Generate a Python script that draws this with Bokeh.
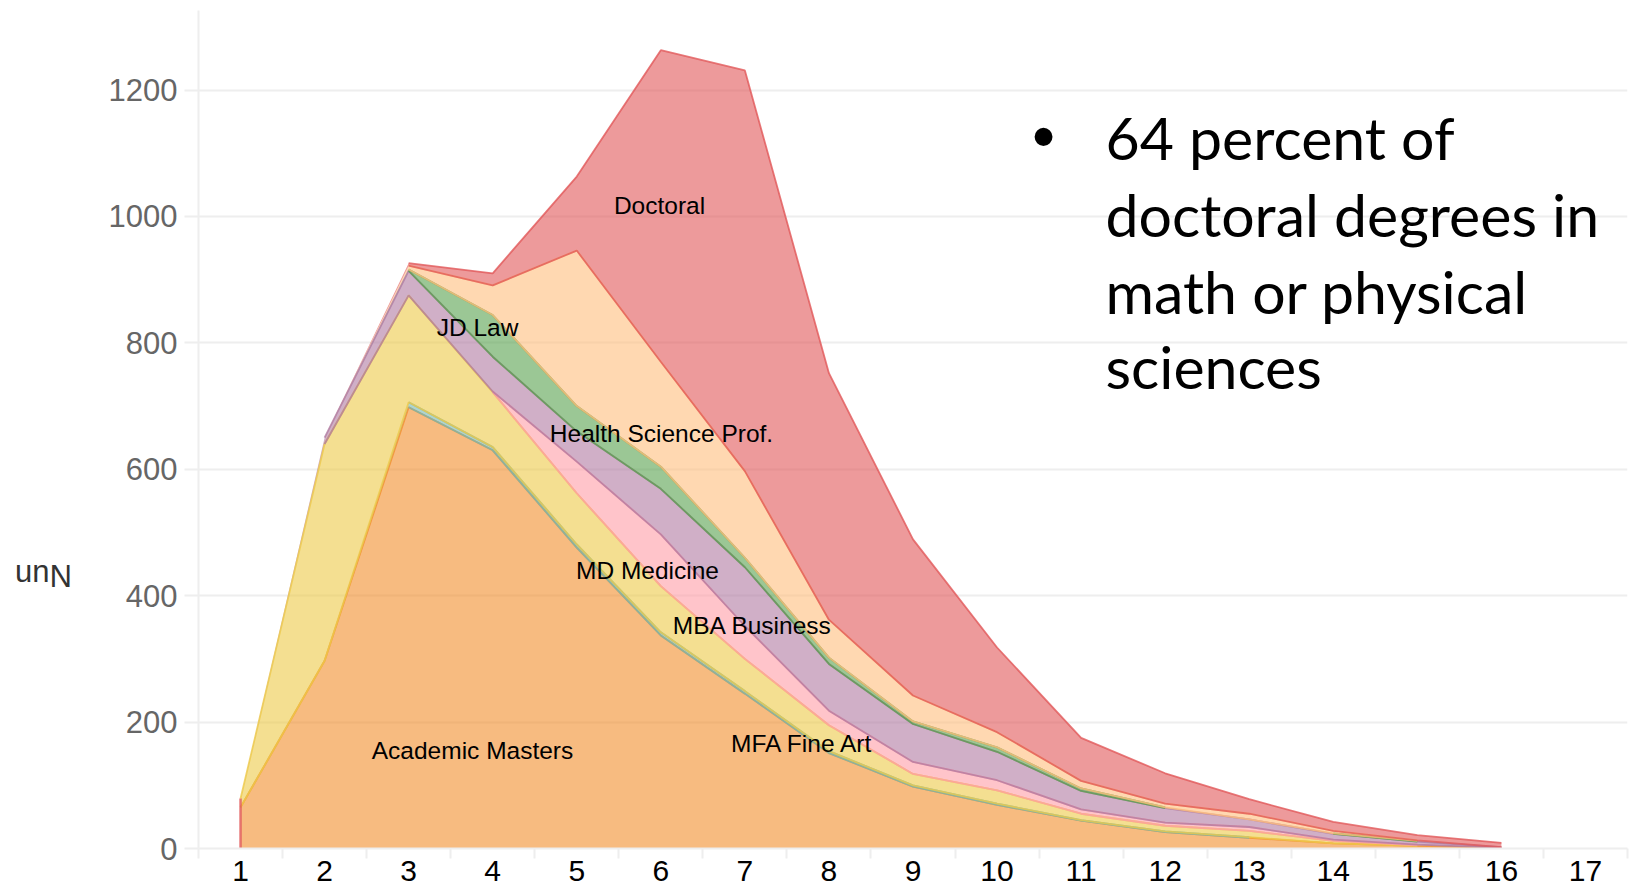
import math
import numpy as np
from bokeh.plotting import figure
from bokeh.models import Range1d, FixedTicker, Label, ColumnDataSource
from bokeh.embed import file_html
from bokeh.resources import INLINE

# ---------------- data ----------------
X = [1, 2, 3, 4, 5, 6, 7, 8, 9, 10, 11, 12, 13, 14, 15, 16]
X_TICKS = list(range(1, 18))
Y_TICKS = [0, 200, 400, 600, 800, 1000, 1200]

academic_masters = [65, 297, 698, 630, 476, 337, 245, 151, 98, 69, 44, 26, 17, 8, 4, 1]
mfa_fine_art     = [0, 0, 8, 5, 5, 5, 4, 3, 2, 2, 1, 1, 1, 0, 0, 0]
other_masters    = [14, 343, 169, 87, 81, 73, 51, 41, 18, 21, 10, 9, 10, 4, 1, 0]
md_medicine      = [0, 0, 0, 1, 50, 82, 52, 23, 19, 16, 7, 5, 6, 2, 1, 0]
mba_business     = [0, 10, 39, 55, 48, 72, 93, 74, 60, 45, 29, 23, 12, 9, 5, 1]
jd_law           = [0, 0, 2, 66, 40, 35, 15, 10, 4, 7, 4, 1, 0, 1, 1, 0]
health_science   = [0, 0, 6, 47, 246, 166, 137, 60, 41, 24, 12, 6, 9, 4, 1, 0]
doctoral         = [0, 0, 4, 19, 117, 493, 634, 390, 247, 134, 68, 48, 23, 14, 8, 7]

SERIES = ["Academic Masters", "MFA Fine Art", "Other Masters", "MD Medicine",
          "MBA Business", "JD Law", "Health Science Prof.", "Doctoral"]
VALUES = [academic_masters, mfa_fine_art, other_masters, md_medicine,
          mba_business, jd_law, health_science, doctoral]
COLORS = ["#f28e2b", "#76b7b2", "#edc948", "#ff9da7",
          "#b07aa1", "#59a14f", "#ffbe7d", "#e15759"]

AREA_LABELS = ["Doctoral", "JD Law", "Health Science Prof.", "MD Medicine",
               "MBA Business", "MFA Fine Art", "Academic Masters"]
NOTE_LINES = ["64 percent of", "doctoral degrees in", "math or physical", "sciences"]

# ---------------- layout (pixels in the 1635x889 page) ----------------
W, H = 1635, 889
FRAME_LEFT, FRAME_TOP, FRAME_BOTTOM, FRAME_RIGHT = 198, 10, 848, 1627
X_START, X_END = 0.5, 17.5
PX_PER_UNIT_Y = (FRAME_BOTTOM - 89.5) / 1200.0
Y_END = (FRAME_BOTTOM - FRAME_TOP) / PX_PER_UNIT_Y
PX_PER_UNIT_X = (FRAME_RIGHT - FRAME_LEFT) / (X_END - X_START)


def dx(px):
    return X_START + (px - FRAME_LEFT) / PX_PER_UNIT_X


def dy(py):
    return (FRAME_BOTTOM - py) / PX_PER_UNIT_Y


LABEL_POS = [(659, 205), (477, 327), (661, 433), (647, 570),
             (752, 625), (802, 743), (472, 750)]
NOTE_X, NOTE_MIDDLES = 1105, [137, 214, 291, 366]
BULLET_POS = (1043, 135)

p = figure(width=W, height=H, output_backend="svg", toolbar_location=None,
           x_range=Range1d(X_START, X_END), y_range=Range1d(0, Y_END),
           min_border_left=FRAME_LEFT, min_border_right=W - FRAME_RIGHT,
           min_border_top=FRAME_TOP, min_border_bottom=H - FRAME_BOTTOM)
p.outline_line_color = None
p.background_fill_color = "white"
p.border_fill_color = "white"

data = {"x": X}
for name, vals in zip(SERIES, VALUES):
    data[name] = vals
src = ColumnDataSource(data)

# filled stacked areas
p.varea_stack(stackers=SERIES, x="x", color=COLORS, fill_alpha=0.6, source=src)

# outlines of each band (drawn only where the band is present)
vals = np.array(VALUES, dtype=float)
tops = np.cumsum(vals, axis=0)
bottoms = tops - vals
for k, color in enumerate(COLORS):
    present = vals[k] > 0
    top_k = np.where(present, tops[k], np.nan)
    p.line(X, top_k, line_color=color, line_alpha=0.8, line_width=1.8)
    if k > 0:
        bot_k = np.where(present, bottoms[k], np.nan)
        p.line(X, bot_k, line_color=color, line_alpha=0.8, line_width=1.8)

# left edge of the outermost (Doctoral) outline at the first x
p.segment(x0=X[0], y0=0, x1=X[0], y1=tops[-1][0], line_color=COLORS[-1],
          line_alpha=0.8, line_width=2.5)

# grid / axes
GRID = "#eeeeee"
p.xgrid.grid_line_color = None
p.ygrid.grid_line_color = GRID
p.ygrid.grid_line_width = 2
p.ygrid.ticker = FixedTicker(ticks=Y_TICKS)

p.yaxis.ticker = FixedTicker(ticks=Y_TICKS)
p.yaxis.axis_line_color = GRID
p.yaxis.axis_line_width = 2
p.yaxis.major_tick_line_color = GRID
p.yaxis.major_tick_line_width = 2
p.yaxis.major_tick_out = 14
p.yaxis.major_tick_in = 0
p.yaxis.minor_tick_line_color = None
p.yaxis.major_label_standoff = 7
p.yaxis.major_label_text_font = "Liberation Sans"
p.yaxis.major_label_text_font_size = "31px"
p.yaxis.major_label_text_color = "#666666"

p.xaxis.ticker = FixedTicker(ticks=X_TICKS, minor_ticks=[t - 0.5 for t in X_TICKS] + [17.5])
p.xaxis.axis_line_color = GRID
p.xaxis.axis_line_width = 2
p.xaxis.major_tick_line_color = None
p.xaxis.major_tick_out = 0
p.xaxis.major_tick_in = 0
p.xaxis.minor_tick_line_color = GRID
p.xaxis.minor_tick_line_width = 2
p.xaxis.minor_tick_out = 10
p.xaxis.minor_tick_in = 0
p.xaxis.major_label_standoff = 2
p.xaxis.major_label_text_font = "Liberation Sans"
p.xaxis.major_label_text_font_size = "30px"
p.xaxis.major_label_text_color = "#000000"

# area labels
for txt, (px, py) in zip(AREA_LABELS, LABEL_POS):
    p.add_layout(Label(x=dx(px), y=dy(py), text=txt, text_align="center",
                       text_baseline="middle", text_font="Liberation Sans",
                       text_font_size="24.5px", text_color="#000000"))

# y axis title (rendered upside down as in the original), placed in the left panel
p.add_layout(Label(x=dx(43), y=dy(575), text="Nun", angle=math.pi,
                   text_align="center", text_baseline="middle",
                   text_font="Liberation Sans", text_font_size="31px",
                   text_color="#333333"), "left")

# bullet note
p.add_layout(Label(x=dx(BULLET_POS[0]), y=dy(BULLET_POS[1]), text="\u2022",
                   text_align="center", text_baseline="middle",
                   text_font="Liberation Sans", text_font_size="66px",
                   text_color="#000000"))
for line, mid in zip(NOTE_LINES, NOTE_MIDDLES):
    p.add_layout(Label(x=dx(NOTE_X), y=dy(mid), text=line, text_align="left",
                       text_baseline="middle", text_font="Lato",
                       text_font_size="59px", text_color="#000000"))

open("out.html", "w").write(file_html(p, INLINE))
